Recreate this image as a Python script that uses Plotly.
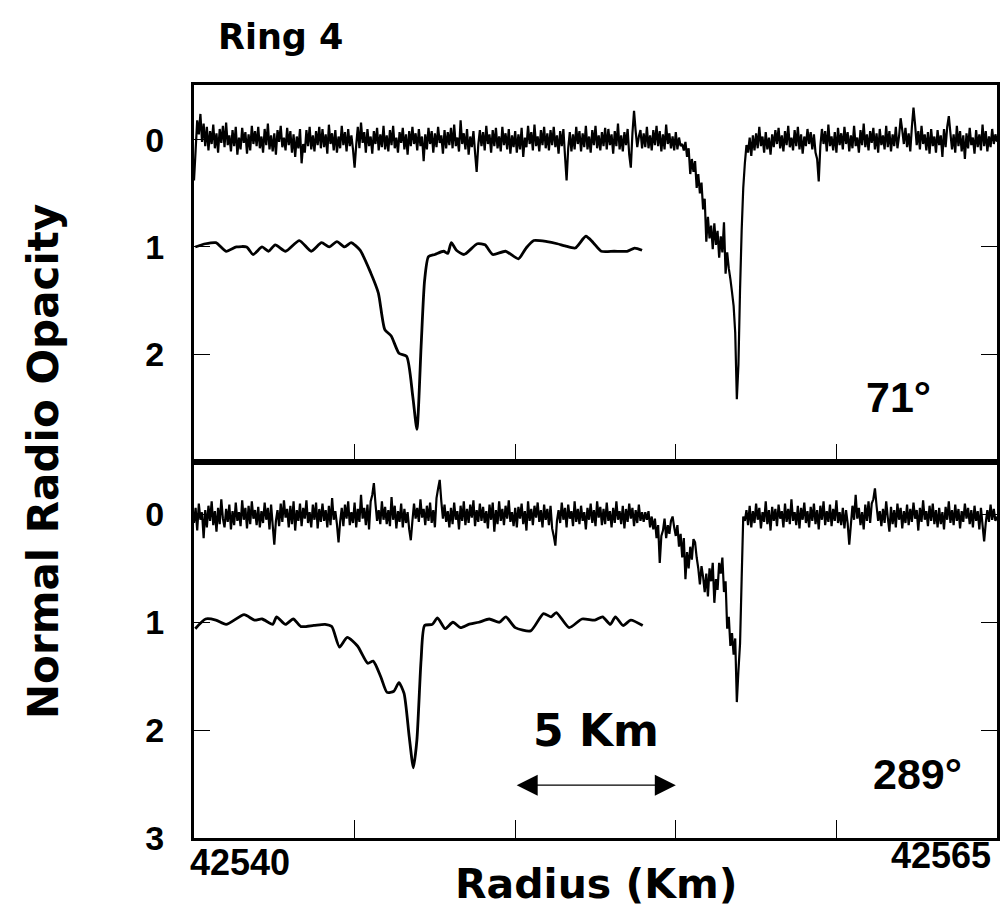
import numpy as np
import plotly.graph_objects as go

# ---------------- data ----------------
STEP = 0.05  # km between samples of the noisy scans

# Top panel (71 deg) noisy scan, three segments
top_left_start = 42540.0
top_left = [
    0.38, 0.10, -0.18, -0.05, -0.24, 0.02, -0.15, 0.06, -0.12, 0.10, -0.08, 0.04, -0.14, 0.08, -0.06, 0.12, -0.10, 0.03, -0.13, 0.07,
    -0.16, 0.05, -0.04, 0.11, -0.09, 0.06, -0.12, 0.14, -0.02, 0.09, -0.11, 0.03, -0.07, 0.13, -0.05, 0.10, -0.13, 0.04, -0.08, 0.06,
    -0.12, 0.08, -0.03, 0.12, -0.10, 0.05, -0.15, 0.09, -0.04, 0.11, -0.06, 0.14, -0.09, 0.02, -0.13, 0.07, -0.02, 0.10, -0.11, 0.05,
    -0.08, 0.12, -0.05, 0.16, -0.03, 0.08, -0.10, 0.22, 0.04, 0.12, -0.09, 0.06, -0.12, 0.09, -0.04, 0.11, -0.08, 0.05, -0.12, 0.08,
    -0.10, 0.07, -0.05, 0.13, -0.14, 0.04, -0.06, 0.10, -0.09, 0.12, -0.03, 0.08, -0.13, 0.05, -0.07, 0.11, -0.10, 0.06, -0.04, 0.09,
    0.26, 0.05, -0.12, 0.08, -0.16, 0.03, -0.07, 0.12, -0.10, 0.06, -0.03, 0.13, -0.08, 0.04, -0.11, 0.10, -0.05, 0.07, -0.13, 0.09,
    -0.04, 0.11, -0.09, 0.05, -0.13, 0.08, -0.02, 0.12, -0.07, 0.03, -0.11, 0.09, -0.05, 0.14, -0.08, 0.06, -0.12, 0.04, -0.06, 0.10,
    -0.10, 0.06, -0.03, 0.20, -0.05, 0.09, -0.11, 0.04, -0.08, 0.12, -0.06, 0.07, -0.12, 0.03, -0.04, 0.13, -0.09, 0.08, -0.07, 0.05,
    -0.11, 0.08, -0.14, 0.06, -0.02, 0.11, -0.18, 0.04, -0.06, 0.09, -0.10, 0.14, -0.03, 0.07, -0.08, 0.12, 0.30, 0.05, -0.09, 0.06,
    -0.07, 0.10, -0.13, 0.04, -0.05, 0.12, -0.09, 0.06, -0.11, 0.08, -0.03, 0.11, -0.12, 0.05, -0.06, 0.09, -0.10, 0.13, -0.04, 0.07,
    -0.08, 0.12, -0.05, 0.09, -0.11, 0.16, -0.02, 0.07, -0.13, 0.04, -0.07, 0.10, -0.14, 0.06, -0.03, 0.11, -0.09, 0.05, -0.12, 0.08,
    -0.06, 0.10, -0.09, 0.05, -0.12, 0.07, -0.04, 0.13, -0.08, 0.06, -0.10, 0.15, 0.38, 0.08, -0.07, 0.11, -0.05, 0.09, -0.12, 0.04,
    -0.08, 0.11, -0.06, 0.07, -0.13, 0.09, -0.03, 0.12, -0.09, 0.05, -0.13, 0.08, -0.04, 0.10, -0.07, 0.06, -0.11, 0.09, -0.10, 0.05,
    -0.05, 0.13, -0.08, 0.06, -0.15, 0.09, -0.04, 0.11, -0.07, 0.05, -0.10, 0.14, 0.26, -0.06, -0.27, -0.08, 0.07, -0.03, -0.09, 0.08,
    -0.06, 0.07, -0.12, 0.08, -0.04, 0.10, -0.09, 0.05, -0.13, 0.06, -0.08, 0.11, -0.05, 0.09, -0.14, 0.04, -0.06, 0.08, -0.03, 0.10,
    -0.07, 0.09, -0.02, 0.06, 0.04,
]
top_dip_start = 42555.25
top_dip = [
    0.10, 0.02, 0.16, 0.08, 0.32, 0.18, 0.30, 0.20, 0.45, 0.32,
    0.50, 0.40, 0.65, 0.55, 0.95, 0.72, 0.92, 0.80, 1.02, 0.78,
    0.98, 0.85, 1.10, 0.90, 1.05, 0.77, 1.25, 1.05, 1.20, 1.30,
    1.42, 1.55, 1.80, 2.42, 2.10, 1.40, 0.85, 0.45, 0.22, 0.05,
]
top_right_start = 42557.25
top_right = [
    0.12, -0.02, 0.15, -0.04, 0.10, -0.06, 0.08, -0.12, 0.06, -0.03, 0.12, -0.07, 0.09, -0.02, 0.14, -0.05, 0.07, -0.09, 0.04, -0.11,
    0.08, -0.04, 0.11, -0.08, 0.05, -0.13, 0.07, -0.02, 0.10, -0.09, 0.06, -0.12, 0.09, -0.05, 0.13, -0.03, 0.06, -0.10, 0.04, -0.07,
    0.09, -0.05, 0.12, 0.18, 0.39, 0.06, -0.10, 0.04, -0.08, 0.11, -0.14, 0.06, -0.03, 0.10, -0.07, 0.12, -0.11, 0.05, -0.06, 0.09,
    -0.12, 0.04, -0.07, 0.11, -0.04, 0.08, -0.13, 0.06, -0.02, 0.12, -0.09, 0.05, -0.15, 0.07, -0.05, 0.10, -0.08, 0.03, -0.11, 0.09,
    -0.06, 0.12, -0.10, 0.05, -0.04, 0.09, -0.13, 0.07, -0.08, 0.11, -0.05, 0.06, -0.12, 0.08, -0.03, -0.20, -0.09, 0.04, -0.11, 0.07,
    -0.06, 0.11, -0.12, -0.30, -0.14, 0.05, -0.08, 0.09, -0.13, 0.04, -0.05, 0.10, -0.07, 0.13, -0.10, 0.06, -0.03, 0.12, -0.09, 0.05,
    -0.04, 0.16, -0.10, 0.07, -0.12, -0.22, -0.06, 0.09, -0.05, 0.12, -0.13, 0.06, -0.08, 0.11, -0.04, 0.18, -0.06, 0.08, -0.11, 0.05,
    -0.02, 0.13, -0.09, 0.07, -0.05, 0.10, -0.14, 0.06, -0.08, 0.11, -0.03, 0.07, -0.10, 0.04, -0.05, 0.02,
]

# Top panel smoothed inset profile (offset to 1)
top_inset_r = [42540.04, 42540.36, 42540.68, 42541.00, 42541.32, 42541.64, 42541.84,
               42542.12, 42542.32, 42542.53, 42542.85, 42543.28, 42543.65, 42543.97,
               42544.21, 42544.45, 42544.69, 42544.89, 42545.17, 42545.50, 42545.74,
               42545.94, 42546.14, 42546.38, 42546.62, 42546.81, 42546.94, 42547.07,
               42547.18, 42547.30, 42547.50, 42547.77, 42547.90, 42548.01, 42548.17,
               42548.41, 42548.82, 42549.06, 42549.30, 42549.70, 42550.10, 42550.34,
               42550.58, 42550.99, 42551.31, 42551.55, 42551.87, 42552.20, 42552.43,
               42552.68, 42553.08, 42553.48, 42553.72, 42553.95]
top_inset_v = [1.00, 0.97, 0.96, 1.04, 1.00, 1.00, 1.07,
               1.00, 1.04, 0.98, 1.04, 0.94, 1.04, 0.96,
               1.00, 0.95, 1.00, 0.96, 1.03, 1.24, 1.43,
               1.77, 1.83, 1.99, 2.02, 2.39, 2.70, 1.93,
               1.31, 1.09, 1.07, 1.04, 1.06, 0.96, 1.03,
               1.07, 0.97, 0.98, 1.07, 1.04, 1.11, 1.01,
               0.94, 0.95, 0.97, 0.99, 1.01, 0.90, 0.96,
               1.04, 1.04, 1.04, 1.01, 1.03]

# Bottom panel (289 deg) noisy scan, three segments
bot_left_start = 42540.0
bot_left = [
    0.08, -0.06, 0.15, -0.10, 0.05, -0.02, 0.22, -0.04, 0.12, -0.08, 0.06, -0.12, 0.10, -0.03, 0.16, -0.06, 0.09, -0.14, 0.04, 0.12,
    -0.05, 0.07, -0.09, 0.14, -0.03, 0.10, -0.11, 0.06, -0.02, 0.11, -0.13, 0.05, -0.06, 0.13, -0.08, 0.09, -0.12, 0.04, -0.04, 0.10,
    -0.07, 0.12, -0.03, 0.08, -0.11, 0.05, -0.06, 0.14, -0.09, 0.10, 0.28, 0.06, -0.04, 0.11, -0.10, 0.07, -0.13, 0.03, -0.05, 0.12,
    -0.08, 0.09, -0.12, 0.15, -0.04, 0.06, -0.10, 0.11, -0.06, 0.04, -0.13, 0.08, -0.02, 0.12, -0.09, 0.05, -0.11, 0.13, -0.05, 0.07,
    -0.10, 0.06, -0.04, 0.12, -0.08, 0.10, -0.15, 0.05, -0.03, 0.09, 0.26, 0.07, -0.06, 0.11, -0.09, 0.04, -0.12, 0.10, -0.02, 0.08,
    -0.11, 0.12, -0.05, 0.07, -0.18, 0.04, -0.06, 0.10, -0.09, 0.14, -0.12, -0.18, -0.29, -0.10, 0.06, -0.04, 0.09, -0.12, 0.05, -0.07,
    0.09, -0.04, 0.11, -0.16, 0.05, -0.08, 0.13, -0.03, 0.07, -0.10, 0.12, -0.05, 0.08, -0.02, 0.14, 0.24, 0.06, -0.10, 0.04, -0.06,
    0.07, -0.14, 0.03, -0.05, 0.10, -0.08, 0.06, -0.11, 0.08, -0.04, 0.12, -0.15, -0.24, -0.32, -0.12, 0.04, -0.09, 0.07, -0.03, 0.12,
    -0.06, 0.09, -0.11, 0.05, -0.03, 0.14, -0.08, 0.06, -0.12, 0.10, -0.05, 0.08, -0.09, 0.03, -0.13, 0.11, -0.04, 0.07, -0.10, 0.06,
    -0.07, 0.08, -0.03, 0.13, -0.09, 0.05, -0.11, 0.16, -0.04, 0.09, -0.12, 0.06, -0.05, 0.10, -0.08, 0.04, -0.13, 0.07, -0.02, 0.11,
    -0.06, 0.12, -0.07, 0.04, -0.10, 0.09, -0.03, 0.15, -0.12, 0.06, -0.05, 0.10, -0.08, 0.03, -0.11, 0.07, -0.04, 0.12, -0.09, 0.05,
    -0.05, 0.10, -0.08, 0.13, 0.20, 0.29, 0.06, -0.04, 0.08, -0.11, 0.05, -0.06, 0.12, -0.09, 0.04, -0.03, 0.11, -0.12, 0.07, -0.05,
    0.09, -0.08, 0.06, -0.02, 0.14, -0.06, 0.05, -0.10, 0.08, -0.04, 0.11, -0.12, 0.03, -0.07, 0.10, -0.05, 0.09, -0.11, 0.06, -0.03,
    0.12, -0.06, 0.08, -0.12, 0.05, -0.03, 0.09, -0.08, 0.13, -0.05, 0.07, -0.10, 0.04, -0.06, 0.11, -0.04, 0.08, -0.09, 0.06, -0.02,
    0.07, -0.02,
]
bot_dip_start = 42554.1
bot_dip = [
    0.05, -0.03, 0.12, 0.02, 0.14, 0.04, 0.22, 0.10, 0.45, 0.20,
    0.15, 0.04, 0.22, 0.10, 0.18, 0.06, 0.02, 0.12, 0.20, 0.10,
    0.30, 0.18, 0.40, 0.22, 0.60, 0.35, 0.50, 0.30, 0.42, 0.23,
    0.26, 0.40, 0.50, 0.65, 0.48, 0.58, 0.72, 0.55, 0.76, 0.50,
    0.62, 0.45, 0.82, 0.60, 0.70, 0.45, 0.55, 0.40, 0.72, 0.62,
    1.06, 0.95, 1.22, 1.10, 1.30, 1.15, 1.74, 1.45, 1.20, 0.60,
    0.02,
]
bot_right_start = 42557.15
bot_right = [
    0.06, -0.04, 0.10, -0.08, 0.12, -0.03, 0.08, -0.10, 0.05, -0.06, 0.13, -0.02, 0.07, -0.12, 0.09, -0.04, 0.15, -0.07, 0.06, -0.05,
    0.11, -0.09, 0.04, -0.03, 0.12, -0.10, 0.07, -0.05, 0.09, -0.14, 0.06, -0.02, 0.10, -0.08, 0.13, -0.06, 0.05, -0.11, 0.08, -0.03,
    0.12, -0.07, 0.06, -0.10, 0.09, -0.04, 0.14, -0.08, 0.05, -0.12, 0.10, -0.03, 0.07, -0.09, 0.11, -0.05, 0.06, -0.13, 0.08, -0.02,
    0.10, -0.06, 0.13, -0.04, 0.08, 0.28, 0.10, -0.08, 0.05, -0.18, 0.04, -0.06, 0.10, -0.02, 0.14, -0.09, 0.06, -0.12, 0.08, -0.10,
    -0.14, -0.24, -0.08, 0.06, -0.03, 0.11, -0.05, 0.08, -0.12, 0.03, 0.16, -0.07, 0.09, -0.04, 0.12, -0.10, 0.05, -0.06, 0.13, -0.03,
    0.08, -0.09, 0.10, -0.05, 0.07, -0.11, 0.04, -0.04, 0.15, -0.06, 0.07, -0.13, 0.05, -0.03, 0.11, -0.08, 0.06, -0.10, 0.09, -0.04,
    0.12, -0.06, 0.09, -0.02, 0.14, -0.07, 0.05, -0.12, 0.08, -0.04, 0.10, -0.09, 0.06, -0.05, 0.13, -0.03, 0.07, -0.10, 0.04, -0.06,
    0.09, -0.04, 0.12, -0.08, 0.06, -0.03, 0.14, -0.06, 0.10, 0.25, 0.08, -0.04, 0.07, -0.09, 0.05, -0.05, 0.06, 0.02,
]

# Bottom panel smoothed inset profile (offset to 1)
bot_inset_r = [42540.04, 42540.36, 42540.68, 42541.00, 42541.56, 42541.88, 42542.12,
               42542.45, 42542.57, 42542.85, 42543.09, 42543.33, 42543.73, 42544.08,
               42544.29, 42544.53, 42544.77, 42545.09, 42545.41, 42545.58, 42545.82,
               42546.01, 42546.22, 42546.38, 42546.54, 42546.70, 42546.83, 42546.94,
               42547.07, 42547.18, 42547.42, 42547.58, 42547.82, 42548.06, 42548.30,
               42548.55, 42548.87, 42549.19, 42549.51, 42549.71, 42550.00, 42550.48,
               42550.88, 42551.12, 42551.28, 42551.68, 42552.08, 42552.48, 42552.72,
               42552.96, 42553.12, 42553.36, 42553.60, 42553.97]
bot_inset_v = [1.06, 0.97, 0.98, 1.02, 0.93, 0.98, 0.97,
               1.02, 0.95, 1.02, 0.97, 1.04, 1.03, 1.02,
               1.04, 1.23, 1.14, 1.22, 1.38, 1.36, 1.51,
               1.65, 1.64, 1.56, 1.66, 2.06, 2.35, 2.09,
               1.35, 1.03, 1.02, 0.96, 1.06, 1.00, 1.05,
               1.02, 1.00, 0.97, 1.00, 0.95, 1.05, 1.08,
               0.92, 0.95, 0.91, 1.05, 0.97, 0.98, 0.95,
               1.02, 0.95, 1.03, 0.98, 1.03]

x_range = [42540, 42565]
x_tick_vals = [42545, 42550, 42555, 42560]
x_end_labels = ["42540", "42565"]
top_y_ticks = [0, 1, 2]
bot_y_ticks = [0, 1, 2, 3]
panel_labels = ["71°", "289°"]
scale_bar = [42550, 42555]
scale_label = "5 Km"


def seg_x(start, vals):
    return np.round(start + STEP * np.arange(len(vals)), 3)


top_x = np.concatenate([seg_x(top_left_start, top_left), seg_x(top_dip_start, top_dip),
                        seg_x(top_right_start, top_right)])
top_y = np.concatenate([top_left, top_dip, top_right])
bot_x = np.concatenate([seg_x(bot_left_start, bot_left), seg_x(bot_dip_start, bot_dip),
                        seg_x(bot_right_start, bot_right)])
bot_y = np.concatenate([bot_left, bot_dip, bot_right])

# ---------------- figure ----------------
fig = go.Figure()
line_noisy = dict(color="black", width=2.2, simplify=False)
line_inset = dict(color="black", width=2.8, shape="spline", smoothing=0.6)

fig.add_trace(go.Scatter(x=top_x, y=top_y, mode="lines", line=line_noisy, xaxis="x2", yaxis="y2"))
fig.add_trace(go.Scatter(x=top_inset_r, y=top_inset_v, mode="lines", line=line_inset, xaxis="x2", yaxis="y2"))
fig.add_trace(go.Scatter(x=bot_x, y=bot_y, mode="lines", line=line_noisy, xaxis="x", yaxis="y"))
fig.add_trace(go.Scatter(x=bot_inset_r, y=bot_inset_v, mode="lines", line=line_inset, xaxis="x", yaxis="y"))

tickfont = dict(family="Liberation Sans", size=34, color="black", weight="bold")
xcommon = dict(range=x_range, tickvals=x_tick_vals, ticks="inside", ticklen=18, tickwidth=1.2,
               tickcolor="black", showticklabels=False, showline=True, linewidth=3,
               linecolor="black", mirror=True, showgrid=False, zeroline=False)
ycommon = dict(ticks="inside", ticklen=16, tickwidth=1.2, tickcolor="black", showline=True,
               linewidth=3, linecolor="black", mirror="ticks", showgrid=False, zeroline=False,
               tickfont=tickfont, ticklabelstandoff=20)

fig.update_layout(
    width=1001, height=915,
    margin=dict(l=194, r=1, t=85, b=77),
    plot_bgcolor="white", paper_bgcolor="white", showlegend=False,
    xaxis=dict(domain=[0, 1], anchor="y", **xcommon),
    xaxis2=dict(domain=[0, 1], anchor="y2", matches="x", **xcommon),
    yaxis=dict(domain=[0, 0.5], range=[3.0, -0.49], tickvals=bot_y_ticks,
               ticktext=[str(v) for v in bot_y_ticks], anchor="x", **ycommon),
    yaxis2=dict(domain=[0.5, 1], range=[3.0, -0.51], tickvals=top_y_ticks,
                ticktext=[str(v) for v in top_y_ticks], anchor="x2", **ycommon),
)

word_font = dict(family="DejaVu Sans", color="black")
num_font = dict(family="Liberation Sans", color="black")
ann = [
    dict(text="<b>Ring 4</b>", x=0.108, y=1.064, xref="paper", yref="paper",
         font=dict(size=35, **word_font)),
    dict(text="<b>Normal Radio Opacity</b>", x=-0.188, y=0.4993, xref="paper", yref="paper",
         textangle=-90, font=dict(size=42, **word_font)),
    dict(text="<b>Radius (Km)</b>", x=0.5, y=-0.061, xref="paper", yref="paper",
         font=dict(size=41, **word_font)),
    dict(text=f"<b>{x_end_labels[0]}</b>", x=0.057, y=-0.032, xref="paper", yref="paper",
         font=dict(size=36, **num_font)),
    dict(text=f"<b>{x_end_labels[1]}</b>", x=0.9305, y=-0.0226, xref="paper", yref="paper",
         font=dict(size=36, **num_font)),
    dict(text=f"<b>{panel_labels[0]}</b>", x=42561.93, y=2.4, xref="x2", yref="y2",
         font=dict(size=43, **num_font)),
    dict(text=f"<b>{panel_labels[1]}</b>", x=42562.52, y=2.41, xref="x", yref="y",
         font=dict(size=43, **num_font)),
    dict(text=f"<b>{scale_label}</b>", x=(scale_bar[0] + scale_bar[1]) / 2, y=2.0, xref="x", yref="y",
         font=dict(size=44, **word_font)),
    dict(text="", x=scale_bar[1], y=2.51, ax=scale_bar[0], ay=2.51, xref="x", yref="y",
         axref="x", ayref="y", showarrow=True, arrowhead=2, arrowside="end+start",
         arrowsize=3, arrowwidth=1.4, arrowcolor="black"),
]
for a in ann:
    a.setdefault("showarrow", False)
    a.setdefault("xanchor", "center")
    a.setdefault("yanchor", "middle")
fig.update_layout(annotations=ann)

fig.write_html("out.html")
